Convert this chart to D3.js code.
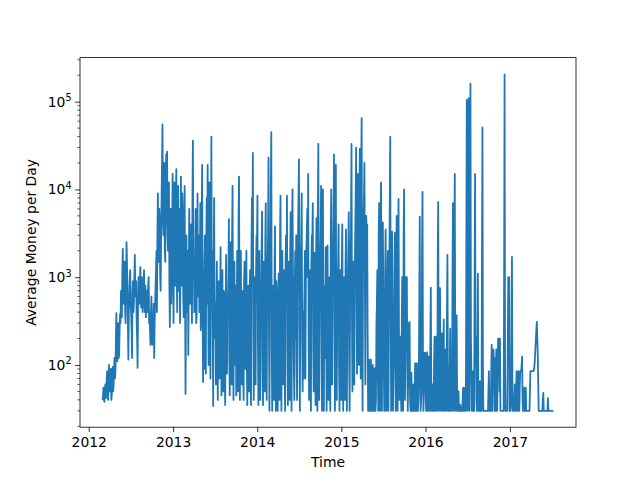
<!DOCTYPE html>
<html>
<head>
<meta charset="utf-8">
<script src="https://cdn.jsdelivr.net/npm/d3@7"></script>
<style>
  html, body { margin: 0; padding: 0; background: #ffffff; }
  svg { display: block; }
  text { font-family: "DejaVu Sans", sans-serif; fill: #000; }
</style>
</head>
<body>
<svg id="chart" width="640" height="480"></svg>
<script>
// ---- data ----
const startDate = "2012-03-01";   // first sample
const stepDays = 2;               // spacing between samples
const values = [
  40,45, 55,40, 38,50, 60,42, 45,70, 85,45, 40,60, 100,55, 50,80, 90,40,
  45,75, 95,50, 60,90, 120,70, 85,200, 390,150, 110,250, 300,120, 130,250, 380,300,
  700,400, 350,1200, 2100,600, 500,900, 1500,400, 300,1000, 2500,1500, 800,300, 115,400, 600,900,
  1200,500, 400,250, 120,700, 900,400, 500,1000, 1800,700, 600,900, 300,200, 93,500, 1000,600,
  500,900, 1300,600, 450,1000, 800,400, 600,900, 1200,500, 400,800, 350,600, 700,400, 500,800,
  1000,300, 400,250, 170,400, 600,250, 170,200, 300,500, 120,300, 500,800, 1200,2000, 400,3000,
  9000,2000, 1500,6000, 4300,1000, 700,3000, 8000,20000, 55000,5000, 3000,10000, 20000,2000, 1500,8000, 25000,4000,
  27000,3000, 2000,6000, 12000,800, 270,2000, 6000,500, 1000,4000, 15000,1500, 300,3000, 12000,1500, 800,5000,
  17000,1000, 400,3000, 11000,700, 2000,6000, 300,1000, 14000,2000, 800,9000, 5000,600, 350,2000, 11000,800,
  47,600, 3000,400, 900,2000, 130,800, 6000,1200, 500,2500, 4000,700, 300,8000, 36000,1000, 1500,400,
  800,2000, 6000,300, 350,1500, 9000,600, 1200,3000, 400,1000, 7000,250, 500,4000, 19000,500, 64,1200,
  90,1500, 3000,200, 80,2500, 8000,500, 19000,1000, 100,3000, 12000,400, 70,800, 40000,600, 2000,300,
  34,1000, 8000,300, 200,500, 60,400, 1500,120, 40,600, 900,150, 70,500, 2200,200, 45,300,
  1200,100, 50,700, 600,90, 35,400, 1800,150, 80,600, 400,1000, 4600,120, 45,800, 2500,200,
  60,3000, 11000,300, 40,600, 1500,100, 300,800, 45,300, 2000,150, 50,5000, 14000,400, 40,700,
  2000,200, 60,500, 700,80, 40,900, 1500,150, 90,600, 2000,100, 35,400, 800,120, 50,600,
  1200,80, 35,2000, 8000,1500, 26000,300, 40,500, 1000,100, 60,1200, 3000,2500, 8500,200, 35,700,
  2000,150, 40,400, 600,2000, 5600,100, 35,800, 1500,150, 50,2500, 7000,200, 40,600, 1200,3000,
  23000,200, 30,700, 1500,10000, 45000,150, 30,400, 800,90, 40,1200, 3800,100, 30,900, 500,60,
  30,500, 1100,100, 40,3000, 8500,200, 30,900, 2000,150, 60,1200, 600,80, 30,1500, 3000,500,
  8500,150, 35,700, 1500,90, 40,2000, 5500,100, 30,3000, 10000,1000, 300,80, 40,900, 2000,200,
  3000,100, 40,1200, 3000,8000, 22000,300, 30,700, 1500,3000, 9000,200, 50,400, 70,300, 800,2000,
  70,900, 2000,3000, 6000,1000, 15000,200, 40,600, 1200,100, 30,1500, 3000,2500, 7000,150, 50,800,
  1900,100, 35,1500, 4700,80, 30,6000, 33000,500, 40,700, 1500,3000, 11000,200, 30,2000, 10000,400,
  30,500, 800,120, 2200,300, 30,900, 2300,100, 40,600, 1000,90, 30,3000, 10000,500, 60,700,
  1500,5000, 25000,400, 30,5000, 19000,200, 40,300, 800,1500, 4000,100, 30,600, 1200,90, 40,1500,
  4000,200, 30,500, 1000,80, 40,1200, 3500,150, 30,400, 800,2000, 5500,100, 30,800, 2000,5000,
  33000,300, 50,600, 1500,100, 60,1000, 3000,8000, 30000,500, 80,4000, 15000,300, 100,6000, 29000,1000,
  70,20000, 65000,300, 30,1500, 5000,8000, 20000,1000, 60,2000, 5000,1500, 4000,200, 30,60, 115,30,
  30,60, 115,30, 30,50, 100,30, 30,80, 92,30, 30,40, 270,500, 1200,100, 30,3000,
  7000,100, 30,4000, 12000,500, 30,1500, 4200,600, 105,30, 30,1000, 3500,200, 30,300, 1000,2000,
  30,300, 1000,8000, 40000,300, 30,1000, 3300,150, 30,100, 200,1000, 3200,100, 30,1500, 5000,300,
  30,2000, 7800,200, 40,60, 210,50, 30,300, 1000,80, 30,3000, 10000,300, 40,200, 1000,300,
  1000,100, 30,80, 300,100, 310,40, 30,50, 82,30, 30,40, 60,30, 30,50, 105,30,
  30,40, 105,30, 30,40, 70,500, 4900,100, 30,40, 60,2000, 9400,100, 30,60, 137,50,
  137,40, 30,80, 140,40, 30,60, 125,40, 30,200, 760,60, 30,40, 60,30, 30,100,
  210,40, 30,60, 210,50, 30,1500, 7200,100, 30,200, 750,60, 30,80, 230,60, 30,100,
  330,50, 30,60, 150,40, 30,400, 1800,100, 30,30, 30,80, 260,50, 30,30, 30,1000,
  7000,200, 30,3000, 15000,100, 30,100, 370,50, 30,40, 50,30, 30,30, 35,30, 30,30,
  30,40, 55,30, 30,40, 55,30, 30,2000, 105000,200, 30,5000, 110000,300, 30,10000, 160000,200,
  85,30, 30,40, 85,30, 30,1000, 15000,100, 210,40, 30,100, 1100,60, 30,40, 65,30,
  65,30, 30,2000, 51000,100, 30,30, 30,30, 30,30, 30,30, 30,30, 30,50, 85,30, 30,30,
  30,80, 170,40, 30,80, 150,100, 120,30, 30,60, 150,50, 30,100, 200,100, 200,50,
  200,30, 30,30, 30,30, 30,30, 30,1000, 205000,100, 30,30, 30,30, 30,200, 1000,100,
  1000,30, 30,30, 35,200, 1700,50, 30,30, 30,40, 60,30, 30,50, 85,40, 30,60,
  85,40, 30,60, 85,85, 85,100, 125,40, 30,40, 55,30, 30,40, 55,30, 30,30,
  30,30, 30,30, 30,50, 85,85, 85,85, 85,85, 85,85, 90,100, 125,160, 200,260,
  310,200, 130,60, 30,30, 30,30, 30,30, 30,30, 30,40, 48,30, 30,30, 30,30,
  30,30, 30,30, 42,30, 30,30, 30,30, 30,30, 30,30, 30,30, 30
];
const xTickYears = [2012, 2013, 2014, 2015, 2016, 2017];
const yMajorTicks = [100, 1000, 10000, 100000];
const yTickExponents = ["2", "3", "4", "5"];
const xLabel = "Time";
const yLabel = "Average Money per Day";

(function () {
  // ---- layout ----
  const W = 640, H = 480;
  const pL = 80, pR = 576, pT = 57.6, pB = 427.2;
  const fontPx = 13.9;

  const t0 = new Date(startDate + "T00:00:00Z");
  const data = values.map((v, i) => ({ date: d3.utcDay.offset(t0, i * stepDays), value: v }));

  // matplotlib-like 5% margins
  const ext = d3.extent(data, d => d.date);
  const span = ext[1] - ext[0];
  const x = d3.scaleUtc()
    .domain([new Date(+ext[0] - span * 0.05), new Date(+ext[1] + span * 0.05)])
    .range([pL, pR]);

  const y = d3.scaleLog()
    .domain([Math.pow(10, 1.291), Math.pow(10, 5.502)])
    .range([pB, pT]);

  const svg = d3.select("#chart");
  svg.append("rect").attr("width", W).attr("height", H).attr("fill", "#fff");

  svg.append("clipPath").attr("id", "clip")
    .append("rect").attr("x", pL).attr("y", pT)
    .attr("width", pR - pL).attr("height", pB - pT);

  const line = d3.line()
    .x(d => x(d.date))
    .y(d => y(d.value));

  svg.append("path")
    .datum(data)
    .attr("clip-path", "url(#clip)")
    .attr("fill", "none")
    .attr("stroke", "#1f77b4")
    .attr("stroke-width", 1.8)
    .attr("stroke-linejoin", "round")
    .attr("stroke-linecap", "butt")
    .attr("d", line);

  // x axis
  const xTicks = xTickYears.map(yr => new Date(Date.UTC(yr, 0, 1)));
  const xAxis = d3.axisBottom(x)
    .tickValues(xTicks)
    .tickFormat(d3.utcFormat("%Y"))
    .tickSizeInner(4.86)
    .tickSizeOuter(0)
    .tickPadding(4.86);
  const gx = svg.append("g").attr("transform", `translate(0,${pB})`).call(xAxis);
  gx.select(".domain").remove();
  gx.selectAll(".tick line").attr("stroke", "#000").attr("stroke-width", 0.8);
  gx.selectAll(".tick text")
    .attr("font-family", "DejaVu Sans")
    .attr("font-size", fontPx)
    .attr("fill", "#000");

  // y axis major
  const yAxis = d3.axisLeft(y)
    .tickValues(yMajorTicks)
    .tickFormat(() => "")
    .tickSizeInner(4.86)
    .tickSizeOuter(0);
  const gy = svg.append("g").attr("transform", `translate(${pL},0)`).call(yAxis);
  gy.select(".domain").remove();
  gy.selectAll(".tick line").attr("stroke", "#000").attr("stroke-width", 0.8);
  gy.selectAll(".tick text").remove();

  // y minor ticks
  const minor = [];
  const dmin = y.domain()[0], dmax = y.domain()[1];
  for (let e = 1; e <= 5; e++) {
    for (let m = 2; m <= 9; m++) {
      const v = m * Math.pow(10, e);
      if (v >= dmin && v <= dmax) minor.push(v);
    }
  }
  svg.append("g").selectAll("line").data(minor).join("line")
    .attr("x1", pL).attr("x2", pL - 2.78)
    .attr("y1", d => y(d)).attr("y2", d => y(d))
    .attr("stroke", "#000").attr("stroke-width", 0.6);

  // y tick labels 10^n
  const labelG = svg.append("g");
  yMajorTicks.forEach((v, i) => {
    const t = labelG.append("text")
      .attr("x", pL - 4.86 - 3.5)
      .attr("y", y(v) + 5)
      .attr("text-anchor", "end")
      .attr("font-size", fontPx);
    t.append("tspan").text("10");
    t.append("tspan").attr("dy", -5.5).attr("font-size", 9.7).text(yTickExponents[i]);
  });

  // spines
  svg.append("rect")
    .attr("x", pL).attr("y", pT)
    .attr("width", pR - pL).attr("height", pB - pT)
    .attr("fill", "none").attr("stroke", "#000").attr("stroke-width", 0.8);

  // axis labels
  svg.append("text")
    .attr("x", (pL + pR) / 2).attr("y", 466.5)
    .attr("text-anchor", "middle").attr("font-size", fontPx)
    .text(xLabel);
  svg.append("text")
    .attr("transform", `translate(35.5,${(pT + pB) / 2}) rotate(-90)`)
    .attr("text-anchor", "middle").attr("font-size", fontPx)
    .text(yLabel);
})();
</script>
</body>
</html>
